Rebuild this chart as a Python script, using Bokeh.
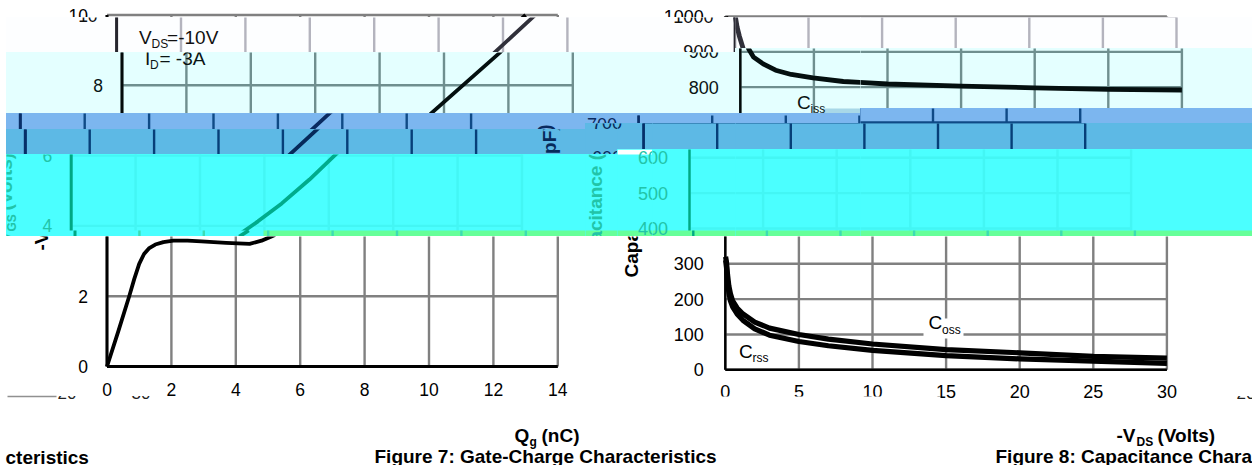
import numpy as np
from bokeh.plotting import figure
from bokeh.models import Range1d
from bokeh.layouts import column, row
from bokeh.core.properties import value
from bokeh.embed import file_html
from bokeh.resources import INLINE

# ---- data ----
qg_ticks = [0, 2, 4, 6, 8, 10, 12, 14]
vgs_ticks = [0, 2, 4, 6, 8, 10]
qg = [0, 0.35, 0.69, 0.85, 1.0, 1.15, 1.3, 1.5, 1.75, 2.06, 2.5, 2.93, 3.7, 4.43, 4.8, 5.18,
      5.8, 6.54, 7.4, 8.2, 9.6, 11.7, 13.0]
vgs = [0, 1.0, 2.0, 2.5, 2.92, 3.2, 3.36, 3.47, 3.54, 3.58, 3.58, 3.56, 3.52, 3.49, 3.58, 3.73,
       4.13, 4.64, 5.32, 6.02, 7.2, 8.9, 10.0]

vds_ticks = [0, 5, 10, 15, 20, 25, 30]
cap_ticks = [0, 100, 200, 300, 400, 500, 600, 700, 800, 900, 1000]
ciss_v = [0.03, 0.15, 0.3, 0.57, 0.9, 1.55, 2.4, 3.46, 4.94, 7, 10, 15, 20, 25, 30]
ciss_c = [1000, 970, 945, 908, 885, 866, 848, 836, 826, 816, 809, 803, 798, 794, 792]
coss_v = [0.02, 0.08, 0.15, 0.24, 0.35, 0.5, 0.8, 1.2, 2, 3, 5, 7, 10, 15, 20, 25, 30]
coss_c = [320, 305, 270, 238, 215, 195, 175, 158, 135, 118, 100, 87, 73, 57, 48, 38, 33]
crss_v = [0.02, 0.08, 0.15, 0.24, 0.35, 0.5, 0.8, 1.2, 2, 3, 5, 7, 10, 15, 20, 25, 30]
crss_c = [310, 290, 250, 218, 195, 178, 158, 140, 116, 98, 80, 68, 55, 40, 31, 24.5, 18]

# ---- chart geometry on the page ----
X0L, SXL, Y0L, SYL = 106.5, 32.2, 366.0, 35.15
X0R, SXR, Y0R, SYR = 724.8, 14.72, 369.3, 0.3533
FONT = value("Liberation Sans")
MID = 0.36  # half the cap height, in em: turns a baseline position into a "middle" position
DX_F = -32  # sideways shift of the thin band at y 230-236

STYLES = {
    "A0": dict(dx=0, bg="#ffffff", grid="#808080", axis="#000000", curve="#000000", text="#000000"),
    "A1": dict(dx=9.6, bg="#fdfeff", grid="#b4b4be", axis="#26262e", curve="#30303a", text="#111111"),
    "B": dict(dx=15, bg="#e4ffff", grid="#6f8f8f", axis="#040a0a", curve="#040f0f", text="#0a1414"),
    "C": dict(dx=-86.7, bg="#7cb6ef", grid="#0f4a86", axis="#0a2f68", curve="#0a2a60", text="#0a2a60"),
    "D": dict(dx=-81.7, bg="#5db9e5", grid="#063f78", axis="#062f68", curve="#062a5a", text="#062a5a"),
    "E": dict(dx=-35.8, bg="#4bffff", grid="#43f6f4", axis="#00a884", curve="#00ac8c", text="#22c4a8"),
    "G": dict(dx=0, bg="#ffffff", grid="#808080", axis="#000000", curve="#000000", text="#000000"),
    "W": dict(dx=0, bg="#ffffff", grid=None, axis=None, curve=None, text=None),
}

# free labels: x, y (baseline, unglitched page px), text, size, bold, angle
LABELS = [
    (129, 44, "V", 19, False, 0), (141.5, 48, "DS", 12, False, 0), (157, 44, "=-10V", 19, False, 0),
    (129.6, 65, "I", 19, False, 0), (134.5, 69, "D", 12, False, 0), (144, 65, "= -3A", 19, False, 0),
    (781.4, 109, "C", 19, False, 0), (795, 113, "iss", 12, False, 0),
    (928, 329.3, "C", 19, False, 0), (941.5, 334, "oss", 12, False, 0),
    (738.5, 358, "C", 19, False, 0), (752, 362, "rss", 12, False, 0),
    (514, 442, "Q", 19, True, 0), (529, 446, "g", 12, True, 0), (541, 442, "(nC)", 19, True, 0),
    (1116, 442, "-V", 19, True, 0), (1136, 446, "DS", 12, True, 0), (1157, 442, "(Volts)", 19, True, 0),
    (374, 462.5, "Figure 7: Gate-Charge Characteristics", 19, True, 0),
    (995, 463, "Figure 8: Capacitance Characteristics", 19, True, 0),
    (5, 463.5, "cteristics", 19, True, 0),
    (48, 250, "-V", 19, True, 90), (52, 231, "GS", 12, True, 90), (48, 210, "(Volts)", 19, True, 90),
    (638, 277, "Capacitance (pF)", 19, True, 90),
]
STRAYS = [(57, "20"), (131, "30"), (1236, "20")]


def make_slice(xa, xb, ya, yb, key, patches=(), thin_band=False, strays=False):
    st = STYLES[key]
    dx = st["dx"]
    p = figure(width=xb - xa, height=yb - ya, output_backend="svg", toolbar_location=None, title=None,
               x_range=Range1d(xa - dx, xb - dx), y_range=Range1d(yb, ya),
               x_axis_type=None, y_axis_type=None, min_border=0,
               background_fill_color=st["bg"], border_fill_color=st["bg"], outline_line_color=None,
               styles={"background-color": st["bg"]})
    p.grid.visible = False
    if st["grid"] is None:
        return p
    p.extra_x_ranges = {
        "qg": Range1d((xa - dx - X0L) / SXL, (xb - dx - X0L) / SXL),
        "vds": Range1d((xa - dx - X0R) / SXR, (xb - dx - X0R) / SXR),
        "qg_f": Range1d((xa - DX_F - X0L) / SXL, (xb - DX_F - X0L) / SXL),
        "vds_f": Range1d((xa - DX_F - X0R) / SXR, (xb - DX_F - X0R) / SXR),
    }
    p.extra_y_ranges = {
        "vgs": Range1d((Y0L - yb) / SYL, (Y0L - ya) / SYL),
        "cap": Range1d((Y0R - yb) / SYR, (Y0R - ya) / SYR),
    }
    L = dict(x_range_name="qg", y_range_name="vgs")
    R = dict(x_range_name="vds", y_range_name="cap")
    g, a, c = st["grid"], st["axis"], st["curve"]

    p.segment(x0=qg_ticks, x1=qg_ticks, y0=[0] * 8, y1=[10] * 8, line_color=g, line_width=2.4, **L)
    p.segment(x0=[0] * 6, x1=[14] * 6, y0=vgs_ticks, y1=vgs_ticks, line_color=g, line_width=2.4, **L)
    p.segment(x0=[0, 0], x1=[0, 14], y0=[0, 0], y1=[10, 0], line_color=a, line_width=3, **L)
    p.segment(x0=vds_ticks, x1=vds_ticks, y0=[0] * 7, y1=[1000] * 7, line_color=g, line_width=2.4, **R)
    p.segment(x0=[0] * 11, x1=[30] * 11, y0=cap_ticks, y1=cap_ticks, line_color=g, line_width=2.4, **R)
    p.segment(x0=[0, 0], x1=[0, 30], y0=[0, 0], y1=[1000, 0], line_color=a, line_width=2.4, **R)
    if key == "G" and yb > 380:  # white plate behind the C_oss label
        p.quad(left=[923], right=[963], top=[318], bottom=[338], fill_color="#ffffff", line_color=None)
    p.line(qg, vgs, line_color=c, line_width=3.8, line_join="round", **L)
    p.line(ciss_v, ciss_c, line_color=c, line_width=4.8, line_join="round", **R)
    p.line(coss_v, coss_c, line_color=c, line_width=5.2, line_join="round", **R)
    p.line(crss_v, crss_c, line_color=c, line_width=5.2, line_join="round", **R)

    for (pxa, pxb, pya, pyb, col) in patches:
        p.quad(left=[pxa - dx], right=[pxb - dx], top=[pya], bottom=[pyb], fill_color=col, line_color=None)

    if thin_band:  # the 6px band at y 230-236, shifted on its own
        ptop, pbot = 230.0, yb
        p.quad(left=[6 - dx], right=[263 - dx], top=[ptop], bottom=[pbot], fill_color="#4bffff", line_color=None)
        p.quad(left=[263 - dx], right=[1300 - dx], top=[ptop], bottom=[pbot], fill_color="#66ff99", line_color=None)
        p.segment(x0=qg_ticks[1:], x1=qg_ticks[1:], y0=[ptop] * 7, y1=[pbot] * 7,
                  line_color="#3cdcb4", line_width=2.4, x_range_name="qg_f")
        p.segment(x0=vds_ticks[1:], x1=vds_ticks[1:], y0=[ptop] * 6, y1=[pbot] * 6,
                  line_color="#3cdcb4", line_width=2.4, x_range_name="vds_f")
        p.segment(x0=[0], x1=[0], y0=[ptop], y1=[pbot], line_color="#00a884", line_width=3, x_range_name="qg_f")
        p.segment(x0=[0], x1=[0], y0=[ptop], y1=[pbot], line_color="#00a884", line_width=2.4, x_range_name="vds_f")
        v_top, v_bot = (Y0L - ptop) / SYL, (Y0L - pbot) / SYL
        q_top, q_bot = np.interp([v_top, v_bot], vgs[13:], qg[13:])
        p.segment(x0=[q_bot], x1=[q_top], y0=[pbot], y1=[ptop], line_color="#00a884", line_width=3.8,
                  x_range_name="qg_f")

    t = st["text"]
    near = lambda y: ya - 10 <= y <= yb + 10
    ys = [v for v in vgs_ticks if near(Y0L - v * SYL)]
    if ys:
        p.text(x=[0] * len(ys), y=ys, text=[str(v) for v in ys], x_offset=-19, text_align="right",
               text_baseline="middle", text_font=FONT, text_font_size="17.5px", text_color=t, **L)
    ys = [v for v in cap_ticks if near(Y0R - v * SYR)]
    if ys:
        p.text(x=[0] * len(ys), y=ys, text=[str(v) for v in ys], x_offset=-21.5, text_align="right",
               text_baseline="middle", text_font=FONT, text_font_size="18px", text_color=t, **R)
    if ya <= 395 and yb >= 383:
        p.text(x=qg_ticks, y=[395 - MID * 17] * 8, text=[str(v) for v in qg_ticks], text_align="center",
               text_baseline="middle", text_font=FONT, text_font_size="17.5px", text_color=t,
               x_range_name="qg")
    if ya <= 398 and yb >= 384:
        p.text(x=vds_ticks, y=[397.5 - MID * 17] * 7, text=[str(v) for v in vds_ticks], text_align="center",
               text_baseline="middle", text_font=FONT, text_font_size="18px", text_color=t,
               x_range_name="vds")
    for (lx, ly, txt, size, bold, ang) in LABELS:
        top, bot = (ly - size * len(txt) * 0.65, ly + 6) if ang else (ly - size, ly + 6)
        if bot < ya or top > yb:
            continue
        px, py = (lx - MID * size, ly) if ang else (lx, ly - MID * size)
        p.text(x=[px], y=[py], text=[txt], angle=ang, angle_units="deg", text_align="left",
               text_baseline="middle", text_font=FONT, text_font_size=f"{size}px",
               text_font_style="bold" if bold else "normal", text_color=t)
    if strays:
        # below y=396 the tick labels are cut off left of x=940 ...
        p.quad(left=[0], right=[940], top=[396], bottom=[400], fill_color="#ffffff", line_color=None)
        # ... and only the feet of a few other labels remain there
        p.text(x=[s[0] for s in STRAYS], y=[398.5 - MID * 17] * 3, text=[s[1] for s in STRAYS], text_align="left",
               text_baseline="middle", text_font=FONT, text_font_size="17px", text_color="#222222")
        p.quad(left=[s[0] - 1 for s in STRAYS], right=[s[0] + 21 for s in STRAYS], top=[380] * 3, bottom=[395.5] * 3,
               fill_color="#ffffff", line_color=None)
        p.segment(x0=[7], x1=[56], y0=[396], y1=[396], line_color="#909090", line_width=1.5)
    return p


X1 = 1252
NOISE = (822, 860, 108, 113, "#a8d8e8")
SPECK = (617, 652, 149, 154, "#ffffff")
COLUMNS = [
    (6, 585, [(17, 52, "A1"), (52, 113, "B"), (113, 129, "C"), (129, 154, "D"), (154, 236, "E")]),
    (585, 617, [(17, 52, "A1"), (52, 113, "B"), (113, 123, "C"), (123, 154, "D"), (154, 236, "E")]),
    (617, 652, [(17, 52, "A1"), (52, 113, "B"), (113, 123, "C"), (123, 149, "D"), (149, 236, "E")]),
    (652, 735, [(17, 52, "A1"), (52, 113, "B"), (113, 123, "C"), (123, 149, "D"), (149, 236, "E")]),
    (735, 860, [(17, 48, "A1"), (48, 113, "B"), (113, 123, "C"), (123, 149, "D"), (149, 236, "E")]),
    (860, X1, [(17, 48, "A1"), (48, 108, "B"), (108, 123, "C"), (123, 149, "D"), (149, 236, "E")]),
]

cols = [make_slice(0, 6, 17, 236, "W")]
for xa, xb, tiles in COLUMNS:
    figs = []
    for ya, yb, key in tiles:
        patches = []
        if key == "B" and xa == 735:
            patches.append(NOISE)
        if key == "E" and xa == 617:
            patches.append(SPECK)
        figs.append(make_slice(xa, xb, ya, yb, key, patches=patches, thin_band=(key == "E")))
    cols.append(column(*figs, spacing=0))

page = column(
    make_slice(0, X1, 0, 17, "A0"),
    row(*cols, spacing=0),
    make_slice(0, X1, 236, 400, "G", strays=True),
    make_slice(0, X1, 400, 465, "G"),
    spacing=0,
)
open("out.html", "w").write(file_html(page, INLINE))
